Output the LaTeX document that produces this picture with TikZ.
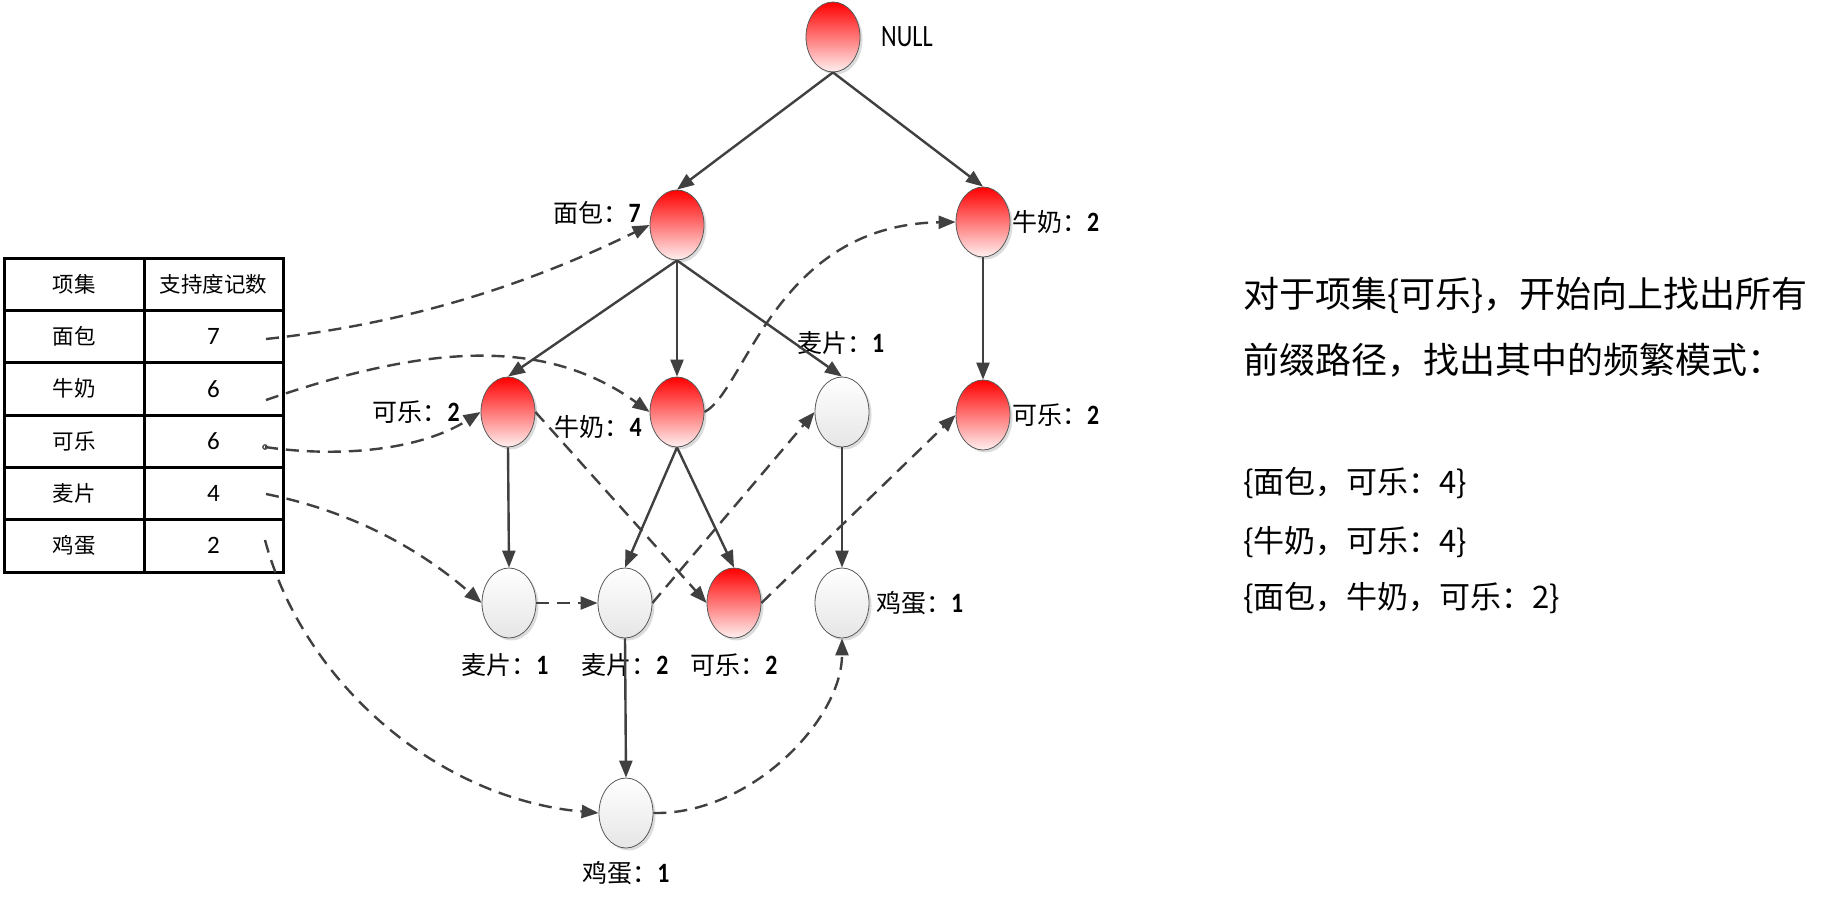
\documentclass[tikz,border=0pt]{standalone}
\usepackage{fontspec}
\setmainfont{Noto Sans CJK SC}
\newfontfamily\cjk{Noto Sans CJK SC}
\newfontfamily\numfont{Carlito}
\usetikzlibrary{arrows.meta,shadows,shapes.geometric}
\definecolor{lc}{HTML}{404040}
\newcommand\mylab[2]{{\fontsize{25}{28}\selectfont\cjk #1}{\fontsize{28}{28}\selectfont\numfont\bfseries\scalebox{0.85}[1]{#2}}}
\tikzset{
  every node/.style={inner sep=0pt},
  nd/.style={ellipse, minimum width=54pt, minimum height=70pt, draw=black!65, line width=0.8pt,
     drop shadow={shadow xshift=2.5pt, shadow yshift=-2.5pt, fill=black!30, opacity=0.45}},
  rednd/.style={nd, top color=red, bottom color=red!6},
  whnd/.style={nd, top color=white, bottom color=black!10},
  conn/.style={draw=lc, line width=2.4pt, -{Triangle[length=17pt,width=13pt]}},
  dconn/.style={conn, dash pattern=on 13pt off 8pt},
  tb/.style={font=\fontsize{21.5}{24}\selectfont\cjk},
  tn/.style={font=\fontsize{25}{26}\selectfont\numfont},
  big/.style={anchor=west, font=\fontsize{36}{40}\selectfont\cjk},
  mid/.style={anchor=west, font=\fontsize{31}{34}\selectfont\cjk},
}
\begin{document}
\begin{tikzpicture}[x=1pt,y=-1pt]
\useasboundingbox (0,0) rectangle (1831,913);
\fill[white] (0,0) rectangle (1831,913);
% ---- table
\draw[line width=3pt] (4,258) rectangle (283,572);
\draw[line width=3pt] (144,258) -- (144,572);
\foreach \y in {310.3,362.7,415,467.3,519.7} \draw[line width=3pt] (4,\y) -- (283,\y);
\node[tb] (h1) at (74,284.2) {项集};
\node[tb] (h2) at (213.5,284.2) {支持度记数};
\node[tb] (r1a) at (74,336.5) {面包}; \node[tn] (r1b) at (213.5,336.5) {7};
\node[tb] (r2a) at (74,388.8) {牛奶}; \node[tn] (r2b) at (213.5,388.8) {6};
\node[tb] (r3a) at (74,441.2) {可乐}; \node[tn] (r3b) at (213.5,441.2) {6};
\node[tb] (r4a) at (74,493.5) {麦片}; \node[tn] (r4b) at (213.5,493.5) {4};
\node[tb] (r5a) at (74,545.8) {鸡蛋}; \node[tn] (r5b) at (213.5,545.8) {2};
\coordinate (s1) at (266,339);
\coordinate (s2) at (266,400);
\coordinate (s3) at (265,447);
\coordinate (s4) at (266,494);
\coordinate (s5) at (265,540);
% ---- tree nodes
\node[rednd] (null) at (833,37) {};
\node[rednd] (mb) at (677,225) {};
\node[rednd] (nn2) at (983,222) {};
\node[rednd] (kl2a) at (508,412) {};
\node[rednd] (nn4) at (677,412) {};
\node[whnd] (mp1a) at (842,412) {};
\node[rednd] (kl2r) at (983,415) {};
\node[whnd] (mp1b) at (509,603) {};
\node[whnd] (mp2) at (625,603) {};
\node[rednd] (kl2b) at (734,603) {};
\node[whnd] (jd1a) at (842,603) {};
\node[whnd] (jd1b) at (626,813) {};
% ---- labels
\node[anchor=west] (lnull) at (881,37) {\fontsize{31}{32}\selectfont\numfont\scalebox{0.78}[1]{NULL}};
\node[anchor=east] (lmb) at (641,213) {\mylab{面包：}{7}};
\node[anchor=west] (lnn2) at (1012,222) {\mylab{牛奶：}{2}};
\node[anchor=east] (lkl2a) at (460,412) {\mylab{可乐：}{2}};
\node[anchor=east] (lnn4) at (642,427) {\mylab{牛奶：}{4}};
\node[anchor=west] (lmp1a) at (797,343) {\mylab{麦片：}{1}};
\node[anchor=west] (lkl2r) at (1012,415) {\mylab{可乐：}{2}};
\node (lmp1b) at (505,665) {\mylab{麦片：}{1}};
\node (lmp2) at (625,665) {\mylab{麦片：}{2}};
\node (lkl2b) at (734,665) {\mylab{可乐：}{2}};
\node[anchor=west] (ljd1a) at (876,603) {\mylab{鸡蛋：}{1}};
\node (ljd1b) at (626,873) {\mylab{鸡蛋：}{1}};
% ---- solid edges
\draw[conn] (null.south) -- (mb.north);
\draw[conn] (null.south) -- (nn2.north);
\draw[conn] (mb.south) -- (kl2a.north);
\draw[conn] (mb.south) -- (nn4.north);
\draw[conn] (mb.south) -- (mp1a.north);
\draw[conn] (nn2.south) -- (kl2r.north);
\draw[conn] (kl2a.south) -- (mp1b.north);
\draw[conn] (nn4.south) -- (mp2.north);
\draw[conn] (nn4.south) -- (kl2b.north);
\draw[conn] (mp1a.south) -- (jd1a.north);
\draw[conn] (mp2.south) -- (jd1b.north);
% ---- dashed links
\draw[dconn] (s1) .. controls (414,323) and (533,282) .. (mb.west);
\draw[dconn] (s2) .. controls (426,345) and (544,336) .. (nn4.west);
\draw[dconn] (s3) .. controls (340,458) and (420,450) .. (kl2a.west);
\draw[dconn] (s4) .. controls (370,515) and (436,563) .. (mp1b.west);
\draw[dconn] (s5) .. controls (304,685) and (440,799) .. (jd1b.west);
\draw[draw=lc, line width=1.2pt] (s3) circle (2.2);
\draw[dconn] (mp1b.east) -- (mp2.west);
\draw[dconn] (mp2.east) -- (mp1a.west);
\draw[dconn] (kl2a.east) -- (kl2b.west);
\draw[dconn] (kl2b.east) -- (kl2r.west);
\draw[dconn] (nn4.east) .. controls (745,392) and (775,225) .. (nn2.west);
\draw[dconn] (jd1b.east) .. controls (750,815) and (842,720) .. (jd1a.south);
% ---- right text
\node[big] (t1) at (1243,295) {对于项集\{可乐\}，开始向上找出所有};
\node[big] (t2) at (1243,360) {前缀路径，找出其中的频繁模式：};
\node[mid] (t3) at (1243,483) {\{面包，可乐：4\}};
\node[mid] (t4) at (1243,542) {\{牛奶，可乐：4\}};
\node[mid] (t5) at (1243,598) {\{面包，牛奶，可乐：2\}};
\end{tikzpicture}
\end{document}
